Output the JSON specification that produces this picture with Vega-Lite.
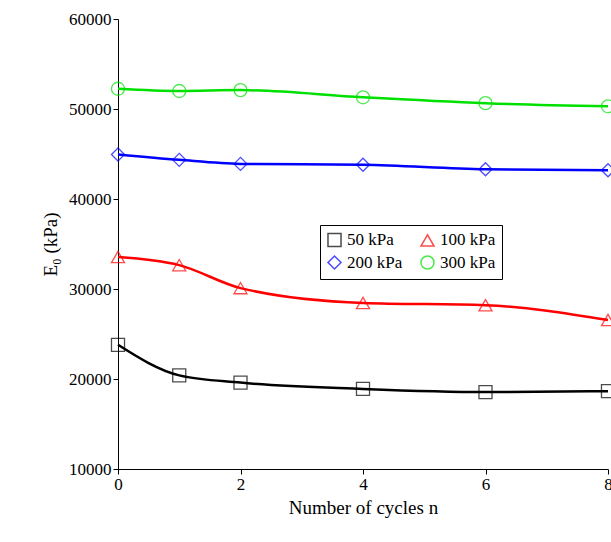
{
"$schema":"https://vega.github.io/schema/vega-lite/v6.json",
"width":490,"height":450,
"autosize":{"type":"none"},
"padding":{"left":118,"top":19,"right":3,"bottom":73},
"background":"white",
"config":{"font":"Liberation Serif","view":{"stroke":null}},
"data":{"values":[
{"n":0,"E":23800,"s":"50 kPa"},{"n":1,"E":20400,"s":"50 kPa"},{"n":2,"E":19600,"s":"50 kPa"},{"n":4,"E":18900,"s":"50 kPa"},{"n":6,"E":18550,"s":"50 kPa"},{"n":8,"E":18650,"s":"50 kPa"},
{"n":0,"E":33550,"s":"100 kPa"},{"n":1,"E":32650,"s":"100 kPa"},{"n":2,"E":30100,"s":"100 kPa"},{"n":4,"E":28450,"s":"100 kPa"},{"n":6,"E":28200,"s":"100 kPa"},{"n":8,"E":26550,"s":"100 kPa"},
{"n":0,"E":44950,"s":"200 kPa"},{"n":1,"E":44350,"s":"200 kPa"},{"n":2,"E":43900,"s":"200 kPa"},{"n":4,"E":43800,"s":"200 kPa"},{"n":6,"E":43300,"s":"200 kPa"},{"n":8,"E":43200,"s":"200 kPa"},
{"n":0,"E":52250,"s":"300 kPa"},{"n":1,"E":52000,"s":"300 kPa"},{"n":2,"E":52100,"s":"300 kPa"},{"n":4,"E":51300,"s":"300 kPa"},{"n":6,"E":50650,"s":"300 kPa"},{"n":8,"E":50300,"s":"300 kPa"}
]},
"encoding":{
"x":{"field":"n","type":"quantitative","scale":{"domain":[0,8]},"axis":{"title":"Number of cycles n","values":[0,2,4,6,8],"grid":false,"domainColor":"black","tickColor":"black","labelColor":"black","labelFontSize":17,"titleFontSize":19,"titleFontWeight":"normal","titleColor":"black","labelFlush":false,"titlePadding":6}},
"y":{"field":"E","type":"quantitative","scale":{"domain":[10000,60000]},"axis":{"title":"E₀ (kPa)","values":[10000,20000,30000,40000,50000,60000],"format":"d","grid":false,"domainColor":"black","tickColor":"black","labelColor":"black","labelFontSize":17,"titleFontSize":19,"titleFontWeight":"normal","titleColor":"black","titlePadding":8}},
"color":{"field":"s","type":"nominal","sort":["50 kPa","100 kPa","200 kPa","300 kPa"],"scale":{"domain":["50 kPa","100 kPa","200 kPa","300 kPa"],"range":["black","#ff0000","#0000ff","#00e000"]},"legend":{"title":null,"orient":"none","legendX":202,"legendY":206,"columns":2,"direction":"horizontal","columnPadding":14,"labelFontSize":17,"labelColor":"black","strokeColor":"black","padding":6,"symbolSize":170,"symbolStrokeWidth":1.5,"symbolFillColor":"transparent","symbolFillOpacity":0,"fillColor":"white"}}
},
"layer":[
{"mark":{"type":"line","interpolate":"monotone","strokeWidth":2.5}},
{"mark":{"type":"point","filled":false,"size":170,"strokeWidth":1.3},
 "encoding":{"shape":{"field":"s","type":"nominal","sort":["50 kPa","100 kPa","200 kPa","300 kPa"],"scale":{"domain":["50 kPa","100 kPa","200 kPa","300 kPa"],"range":["square","triangle-up","diamond","circle"]}}}}
]
}
